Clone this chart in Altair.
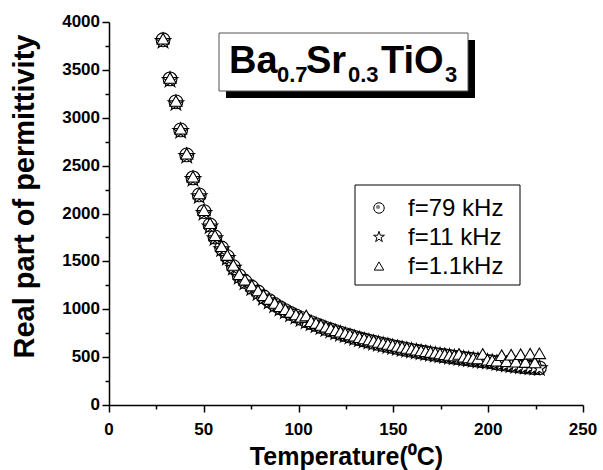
import altair as alt
import pandas as pd

# ---- data ----
TEMP = [28.5, 32.2, 35.3, 37.8, 41.0, 44.3, 47.6, 50.1, 53.3, 55.9,
        59.4, 62.4, 65.6, 68.7, 71.7, 75.3, 78.6, 81.5, 84.5, 87.4,
        90.2, 93.0, 95.8, 98.6, 101.3, 104.0, 106.6, 109.2, 111.8, 114.4,
        117.0, 119.6, 122.1, 124.6, 127.1, 129.6, 132.1, 134.6, 137.1, 139.6,
        142.1, 144.6, 147.1, 149.6, 152.1, 154.6, 157.1, 159.6, 162.1, 164.6,
        167.1, 169.6, 172.1, 174.6, 177.1, 179.6, 182.1, 184.6, 187.1, 189.6,
        192.1, 194.6, 197.1, 199.6, 202.1, 204.6, 207.1, 209.6, 212.1, 214.6,
        217.1, 219.6, 222.1, 224.6, 227.0]

EPS_79K = [3814, 3406, 3166, 2873, 2612, 2372, 2194, 2020, 1881, 1755,
           1640, 1549, 1445, 1348, 1290, 1230, 1180, 1130, 1090, 1050,
           1015, 985, 955, 930, 905, 880, 860, 840, 820, 800,
           783, 766, 750, 735, 720, 706, 692, 679, 667, 655,
           643, 632, 621, 610, 600, 590, 580, 571, 562, 553,
           545, 537, 529, 521, 514, 507, 500, 493, 486, 480,
           474, 468, 462, 456, 450, 440, 432, 425, 418, 412,
           405, 400, 395, 390, 388]

EPS_11K = [3800, 3395, 3150, 2860, 2600, 2360, 2180, 2005, 1865, 1740,
           1625, 1535, 1432, 1336, 1278, 1218, 1168, 1118, 1078, 1040,
           1005, 975, 945, 920, 895, 871, 851, 831, 811, 792,
           775, 758, 742, 727, 712, 698, 684, 671, 659, 647,
           636, 625, 614, 603, 593, 583, 574, 565, 556, 547,
           539, 531, 523, 516, 509, 502, 495, 488, 481, 475,
           469, 463, 457, 451, 445, 436, 428, 420, 414, 408,
           402, 397, 392, 388, 384]

EPS_1K1 = [3825, 3415, 3175, 2885, 2625, 2385, 2210, 2035, 1898, 1772,
           1658, 1566, 1463, 1366, 1307, 1247, 1196, 1146, 1106, 1066,
           1031, 1001, 971, 946, 921, 935, 876, 856, 836, 816,
           799, 782, 766, 751, 736, 722, 708, 695, 683, 671,
           659, 648, 637, 626, 616, 606, 596, 587, 578, 569,
           561, 553, 545, 537, 530, 523, 516, 533, 503, 497,
           491, 485, 533, 473, 467, 462, 520, 457, 525, 452,
           530, 448, 535, 444, 540]

LABELS = ["f=79 kHz", "f=11 kHz", "f=1.1kHz"]
X_MAJOR = [0, 50, 100, 150, 200, 250]
X_MINOR = [25, 75, 125, 175, 225]
Y_MAJOR = list(range(0, 4001, 500))
Y_MINOR = list(range(250, 4000, 500))

STAR = ("M0,-1L0.2245,-0.309L0.951,-0.309L0.363,0.118L0.588,0.809L0,0.382"
        "L-0.588,0.809L-0.363,0.118L-0.951,-0.309L-0.2245,-0.309Z")
SHAPES = ["circle", STAR, "triangle-up"]

rows = []
for lab, vals in zip(LABELS, [EPS_79K, EPS_11K, EPS_1K1]):
    for t, v in zip(TEMP, vals):
        rows.append({"T": t, "eps": v, "series": lab})
df = pd.DataFrame(rows)
df79 = df[df.series == LABELS[0]]
df11 = df[df.series == LABELS[1]]
df1k = df[df.series == LABELS[2]]

FONT = "Liberation Sans"
line_style = dict(domainColor="black", domainWidth=1.5, tickColor="black", tickWidth=1.5, grid=False)

XS = alt.Scale(domain=[0, 250], nice=False)
YS = alt.Scale(domain=[0, 4000], nice=False)

xaxis = alt.Axis(
    values=X_MAJOR, labels=False, tickSize=7, orient="bottom",
    title="Temperature(⁰C)", titleFont=FONT, titleFontWeight="bold", titleColor="black",
    titleX=237, titleY=59, titleAlign="center", titleBaseline="alphabetic",
    titleFontSize=25, **line_style,
)
yaxis = alt.Axis(
    values=Y_MAJOR, labels=False, tickSize=7, orient="left",
    title="Real part of permittivity", titleFont=FONT, titleFontWeight="bold", titleColor="black",
    titleX=-85, titleY=174, titleAngle=270, titleAlign="center", titleBaseline="middle",
    titleFontSize=29, **line_style,
)
xminor = alt.Axis(values=X_MINOR, labels=False, tickSize=4, domain=False, title=None,
                  orient="bottom", tickColor="black", tickWidth=1.5, grid=False)
yminor = alt.Axis(values=Y_MINOR, labels=False, tickSize=4, domain=False, title=None,
                  orient="left", tickColor="black", tickWidth=1.5, grid=False)

shape_scale = alt.Scale(domain=LABELS, range=SHAPES)
shape = alt.Shape("series:N", scale=shape_scale, legend=None)
X = alt.X("T:Q", scale=XS, axis=xaxis)
Y = alt.Y("eps:Q", scale=YS, axis=yaxis)

def pts(d, size, **kw):
    return alt.Chart(d).mark_point(
        filled=False, fill="white", stroke="black", strokeWidth=1.1, opacity=1, size=size, **kw)

circles = pts(df79, 190).encode(x=X, y=Y, shape=shape)
dots = alt.Chart(df79).mark_point(
    filled=True, fill="#808080", strokeWidth=0, opacity=1, size=30, shape="circle"
).encode(x=X, y=Y)
stars = pts(df11, 260).encode(x=X, y=Y, shape=shape)
tris = pts(df1k, 150).encode(x=X, y=Y, shape=shape)

# bold tick labels placed through the same scales
xlab = alt.Chart(pd.DataFrame({"v": X_MAJOR})).mark_text(
    font=FONT, fontWeight="bold", fontSize=17, color="black", baseline="alphabetic", align="center"
).encode(x=alt.X("v:Q", scale=XS), y=alt.value(413), text=alt.Text("v:Q", format="d"))
ylab = alt.Chart(pd.DataFrame({"v": Y_MAJOR})).mark_text(
    font=FONT, fontWeight="bold", fontSize=17, color="black", baseline="middle", align="right"
).encode(x=alt.value(-9), y=alt.Y("v:Q", scale=YS), text=alt.Text("v:Q", format="d"))

main = alt.layer(circles, dots, stars, tris, xlab, ylab)

minor = alt.Chart(df79).mark_point(opacity=0).encode(
    x=alt.X("T:Q", scale=XS, axis=xminor), y=alt.Y("eps:Q", scale=YS, axis=yminor))

one = pd.DataFrame({"k": [0]})

# title box with drop shadow
shadow = alt.Chart(one).mark_rect(color="black").encode(
    x=alt.value(117), x2=alt.value(366), y=alt.value(18), y2=alt.value(76))
box = alt.Chart(one).mark_rect(fill="white", stroke="#555555", strokeWidth=1).encode(
    x=alt.value(110), x2=alt.value(359), y=alt.value(11), y2=alt.value(69))
pieces = [("Ba", 120, 51, 38), ("0.7", 168, 60, 22), ("Sr", 197, 51, 38),
          ("0.3", 239, 60, 22), ("TiO", 272, 51, 38), ("3", 336, 60, 22)]
texts = []
for s, px, py, fs in pieces:
    texts.append(alt.Chart(one).mark_text(
        text=s, font=FONT, fontWeight="bold", fontSize=fs, color="black",
        align="left", baseline="alphabetic").encode(x=alt.value(px), y=alt.value(py)))

# legend box
leg = [alt.Chart(one).mark_rect(fill="white", stroke="black", strokeWidth=1).encode(
    x=alt.value(246), x2=alt.value(411), y=alt.value(163), y2=alt.value(263))]
for i, (lab, shp) in enumerate(zip(LABELS, SHAPES)):
    yy = 186 + 29 * i
    leg.append(alt.Chart(one).mark_point(
        shape=shp, filled=False, fill="white", stroke="black", strokeWidth=1, opacity=1,
        size=[110, 130, 90][i]).encode(x=alt.value(270), y=alt.value(yy)))
    if i == 0:
        leg.append(alt.Chart(one).mark_point(
            shape="circle", filled=True, fill="#808080", strokeWidth=0, opacity=1, size=18
        ).encode(x=alt.value(269), y=alt.value(yy - 1)))
    leg.append(alt.Chart(one).mark_text(
        text=lab, font=FONT, fontSize=24, color="black", align="left", baseline="middle"
    ).encode(x=alt.value(299), y=alt.value(yy + 1)))

deco = alt.layer(shadow, box, *texts, *leg)

chart = alt.layer(main, minor, deco).resolve_axis(x="independent", y="independent").properties(
    width=474, height=383,
    autosize=alt.AutoSizeParams(type="none"),
    padding={"left": 109, "top": 22, "right": 20, "bottom": 65},
    background="white",
).configure_view(stroke=None)

chart.save("out.html", embed_options={"renderer": "svg", "actions": False})
